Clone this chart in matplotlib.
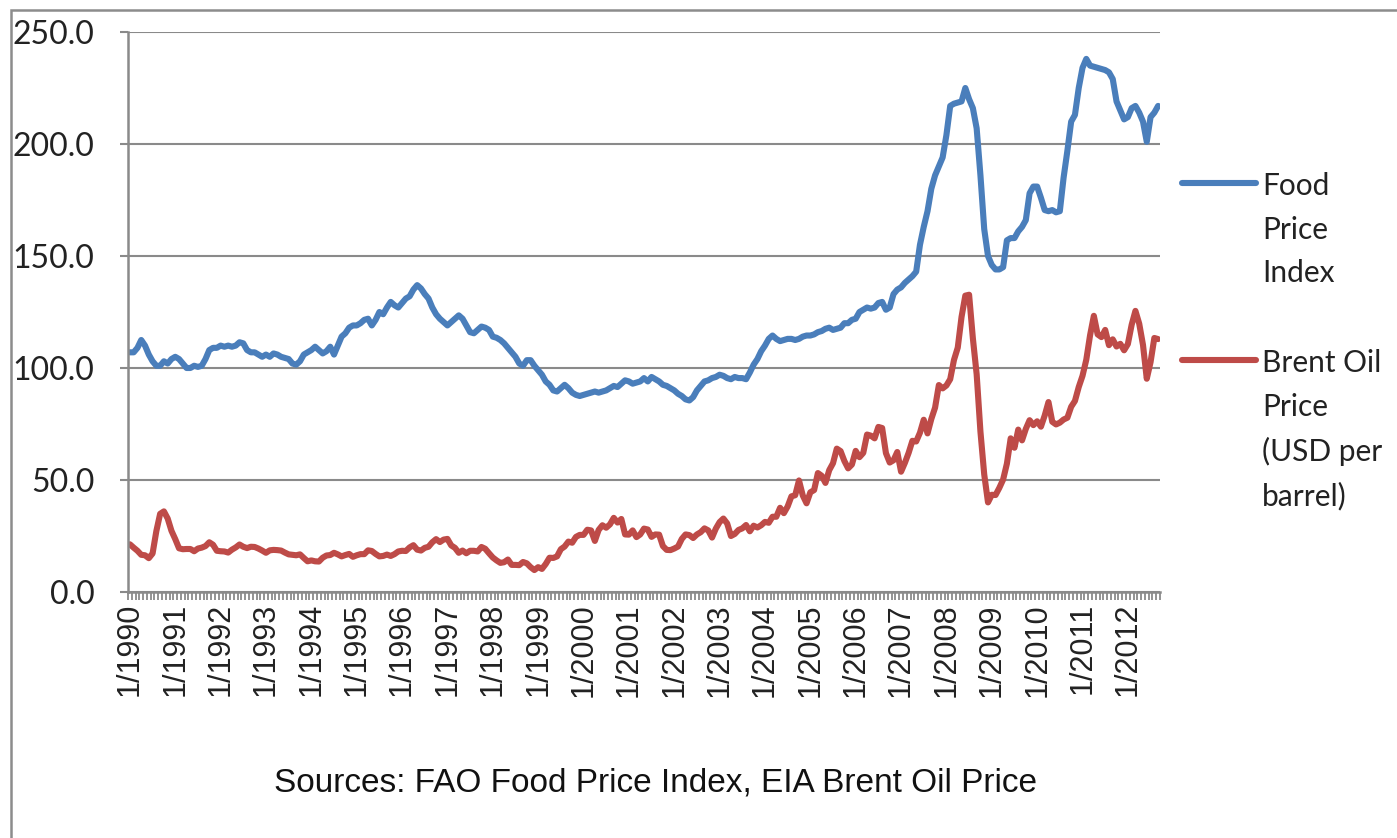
import matplotlib
matplotlib.use("Agg")
import matplotlib.pyplot as plt
from matplotlib import font_manager
from matplotlib.lines import Line2D
from matplotlib.patches import Rectangle

# monthly values, 1/1990 .. 9/2012
food_index = [
    107, 107, 109, 112.5, 110, 106, 103, 101, 101, 103, 102, 104,            # 1990
    105, 104, 102, 100, 100, 101, 100.5, 101, 104, 108, 109, 109,           # 1991
    110, 109.5, 110, 109.5, 110, 111.5, 111, 108, 107, 107, 106, 105,       # 1992
    106, 105, 106.5, 106, 105, 104.5, 104, 102, 101.5, 103, 106, 107,       # 1993
    108, 109.5, 108, 106.5, 107.5, 109.5, 106, 110, 114, 115.5, 118, 119,   # 1994
    119, 120, 121.5, 122, 119, 121.5, 125, 124, 127, 129.5, 128, 127,       # 1995
    129, 131, 132, 135, 137, 135.5, 133, 131, 127, 124, 122, 120.5,         # 1996
    119, 120.5, 122, 123.5, 122, 119, 116, 115.5, 117, 118.5, 118, 117,     # 1997
    114, 113.5, 112.5, 111, 109, 107, 105, 102, 101, 103.5, 103.5, 101,     # 1998
    99, 97, 94, 92.5, 90, 89.5, 91, 92.5, 91, 89, 88, 87.5,                 # 1999
    88, 88.5, 89, 89.5, 89, 89.5, 90, 91, 92, 91.5, 93, 94.5,               # 2000
    94, 93, 93.5, 94, 95.5, 94, 96, 95, 94, 92.5, 92, 91,                   # 2001
    90, 88.5, 87.5, 86, 85.5, 87, 90, 92, 94, 94.5, 95.5, 96,               # 2002
    97, 96.5, 95.5, 95, 96, 95.5, 95.5, 95, 98, 101.5, 104, 107.5,          # 2003
    110, 113, 114.5, 113, 112, 112.5, 113, 113, 112.5, 113, 114, 114.5,     # 2004
    114.5, 115, 116, 116.5, 117.5, 118, 117, 117.5, 118, 120, 120, 121.5,   # 2005
    122, 125, 126, 127, 126.5, 127, 129, 129.5, 126, 127, 133, 135,         # 2006
    136, 138, 139.5, 141, 143, 155, 163, 170, 180, 186, 190, 194,           # 2007
    204, 217, 218, 218.5, 219, 225, 220, 216, 207, 186, 162, 150,           # 2008
    146, 144, 144, 145, 157, 158, 158, 161, 163, 166, 178, 181,             # 2009
    181, 176, 170.5, 170, 170.5, 169.5, 170, 185, 197, 210, 213, 225,       # 2010
    234, 238, 235, 234.5, 234, 233.5, 233, 232, 229, 219, 215, 211,         # 2011
    212, 216, 217, 214, 210, 201, 212, 214, 217,                            # 2012
]

brent_price = [
    21.3, 19.8, 18.4, 16.6, 16.4, 15.1, 17.2, 27.2, 34.9, 36.0, 32.8, 27.3,   # 1990
    23.6, 19.5, 19.1, 19.2, 19.2, 18.2, 19.4, 19.8, 20.5, 22.2, 21.1, 18.4,   # 1991
    18.2, 18.1, 17.6, 18.9, 19.9, 21.2, 20.2, 19.6, 20.2, 20.1, 19.4, 18.5,   # 1992
    17.5, 18.6, 18.8, 18.7, 18.5, 17.6, 16.8, 16.6, 16.4, 16.8, 15.2, 13.7,   # 1993
    14.1, 13.7, 13.6, 15.3, 16.3, 16.5, 17.5, 16.8, 15.9, 16.5, 17.0, 15.7,   # 1994
    16.4, 16.9, 16.9, 18.6, 18.3, 17.0, 15.9, 16.1, 16.7, 16.1, 16.9, 18.1,   # 1995
    18.4, 18.3, 19.9, 20.9, 18.9, 18.5, 19.7, 20.2, 22.2, 23.6, 22.3, 23.4,   # 1996
    23.7, 20.8, 19.7, 17.5, 18.5, 17.3, 18.4, 18.4, 18.1, 20.1, 19.3, 17.3,   # 1997
    15.4, 14.1, 13.0, 13.3, 14.5, 12.1, 12.1, 12.0, 13.4, 12.8, 11.1, 9.8,    # 1998
    11.1, 10.3, 12.5, 15.3, 15.2, 15.9, 19.1, 20.3, 22.5, 22.0, 24.6, 25.5,   # 1999
    25.5, 27.8, 27.5, 22.8, 27.7, 29.8, 28.7, 30.2, 33.1, 31.0, 32.6, 25.7,   # 2000
    25.6, 27.5, 24.5, 25.7, 28.3, 27.9, 24.6, 25.7, 25.6, 20.5, 18.8, 18.7,   # 2001
    19.4, 20.3, 23.7, 25.7, 25.4, 24.1, 25.7, 26.7, 28.4, 27.5, 24.3, 28.3,   # 2002
    31.2, 32.8, 30.6, 25.0, 25.9, 27.7, 28.4, 29.9, 27.1, 29.6, 28.8, 29.8,   # 2003
    31.3, 30.9, 33.6, 33.6, 37.6, 35.2, 38.2, 42.7, 43.2, 49.8, 43.1, 39.6,   # 2004
    44.5, 45.5, 53.1, 51.9, 48.7, 54.4, 57.5, 64.0, 62.9, 58.5, 55.2, 56.9,   # 2005
    63.0, 60.2, 62.1, 70.3, 69.8, 68.6, 73.7, 73.2, 62.0, 57.8, 58.8, 62.5,   # 2006
    53.7, 57.6, 62.1, 67.5, 67.2, 71.1, 76.9, 70.8, 77.2, 82.3, 92.4, 90.9,   # 2007
    92.2, 95.0, 103.6, 109.1, 122.8, 132.3, 132.7, 113.2, 97.2, 71.6, 52.5, 40.0,  # 2008
    43.4, 43.3, 46.5, 50.2, 57.3, 68.6, 64.4, 72.5, 67.7, 72.8, 76.7, 74.5,   # 2009
    76.2, 73.8, 78.8, 84.8, 76.0, 74.8, 75.6, 77.0, 77.8, 82.7, 85.3, 91.5,   # 2010
    96.5, 103.7, 114.6, 123.3, 115.0, 113.8, 117.0, 110.2, 112.8, 109.6, 110.8, 107.9,  # 2011
    110.7, 119.3, 125.5, 119.8, 110.3, 95.2, 102.6, 113.4, 112.9,             # 2012
]

years = list(range(1990, 2013))
year_labels = ["1/%d" % y for y in years]
food_label = "Food\nPrice\nIndex"
brent_label = "Brent Oil\nPrice\n(USD per\nbarrel)"
source_text = "Sources: FAO Food Price Index, EIA Brent Oil Price"

installed = {f.name for f in font_manager.fontManager.ttflist}
narrow = "Liberation Sans Narrow" if "Liberation Sans Narrow" in installed else "Liberation Sans"

W, H = 1397, 838
fig = plt.figure(figsize=(W / 100, H / 100), dpi=100)
ax = fig.add_axes([128 / W, 1 - 592 / H, (1160 - 128) / W, (592 - 32) / H])

months = list(range(len(food_index)))
blue = "#4a7ebb"
red = "#be4b48"
grid_c = "#8a8a8a"
lw = 4.4

ax.plot(months, food_index, color=blue, lw=lw, solid_capstyle="round", solid_joinstyle="round")
ax.plot(months, brent_price, color=red, lw=lw, solid_capstyle="round", solid_joinstyle="round")

ax.set_xlim(-0.5, len(months) - 0.5)
ax.set_ylim(0, 250)
ax.set_yticks([0, 50, 100, 150, 200, 250])
ax.set_yticklabels(["%.1f" % v for v in [0, 50, 100, 150, 200, 250]],
                   fontfamily="Lato", fontsize=23, color="#222222")
ax.yaxis.grid(True, color=grid_c, lw=1.5)
ax.set_axisbelow(True)

ax.set_xticks([12 * i for i in range(len(years))])
ax.set_xticklabels(year_labels, rotation=90, fontfamily="Liberation Sans",
                   fontsize=22, color="#222222", va="top")
ax.set_xticks([m - 0.5 for m in range(len(months) + 1)], minor=True)
ax.tick_params(axis="x", which="major", length=0, pad=8)
ax.tick_params(axis="x", which="minor", length=6, width=1.3, color=grid_c, direction="out")
ax.tick_params(axis="y", length=6, width=1.5, color=grid_c, pad=18)

for s in ["top", "right"]:
    ax.spines[s].set_visible(False)
for s in ["left", "bottom"]:
    ax.spines[s].set_color(grid_c)
    ax.spines[s].set_linewidth(1.8)

# legend drawn beside the plot, line at first text row
def legend_entry(y_px, color, text):
    fig.add_artist(Line2D([1182 / W, 1256 / W], [1 - y_px / H, 1 - y_px / H],
                          color=color, lw=lw, solid_capstyle="round"))
    fig.text(1262 / W, 1 - (y_px - 11) / H, text, ha="left", va="top",
             fontfamily="Lato", fontsize=21.5, color="#222222", linespacing=1.68)

legend_entry(183, blue, food_label)
legend_entry(360, red, brent_label)

fig.text(655 / W, 1 - 783 / H, source_text, ha="center", va="center",
         fontfamily=narrow, fontsize=24, color="#111111")

# chart-area border
fig.add_artist(Rectangle((11 / W, -0.2), 2, 1 - 10 / H + 0.2, transform=fig.transFigure,
                         fill=False, edgecolor="#8c8c8c", lw=1.8, clip_on=False))

fig.savefig("out.png", dpi=100)
